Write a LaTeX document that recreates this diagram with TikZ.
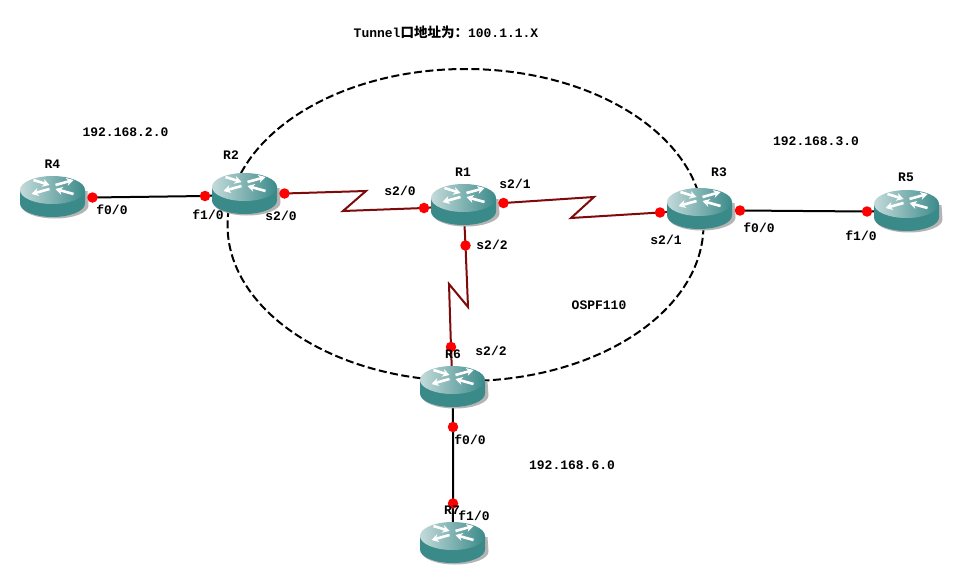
\documentclass[tikz,border=0pt]{standalone}
\usepackage{fontspec}
\setmainfont{Liberation Mono}
\newfontfamily\cjk{Noto Sans CJK SC}
\usetikzlibrary{shapes.geometric,arrows.meta,backgrounds}
\definecolor{rtrbody}{HTML}{3B8A8A}
\definecolor{rtrtop}{HTML}{478F8F}
\definecolor{rtrlight}{HTML}{C4DADA}
\definecolor{rtrshade}{HTML}{B4B4B4}
\definecolor{serial}{HTML}{7E0A0A}
\tikzset{
  x=1pt,y=-1pt,
  rtrbox/.style={minimum width=65pt,minimum height=42pt,inner sep=0pt,outer sep=0pt},
  port/.style={circle,fill=red,minimum size=10.5pt,inner sep=0pt},
  tag/.style={font=\fontsize{13}{13}\selectfont\bfseries,inner sep=0pt},
  ethlink/.style={black,line width=2pt},
  seriallink/.style={serial,line width=2pt},
  tunnelring/.style={ellipse,draw=black,line width=2pt,dash pattern=on 8pt off 3.5pt,
    minimum width=476pt,minimum height=312pt,inner sep=0pt},
  rtrarrow/.style={white,line width=2.6pt,-{Stealth[length=7pt,width=8pt]}}
}
% Router icon: name, centre x, top y of the casing
\newcommand{\router}[3]{%
  \begin{scope}[shift={(#2,#3)}]
    \fill[rtrshade] (-31,15) -- (-31,29.5) arc[start angle=180,end angle=0,x radius=33.5,y radius=13] -- (35,15) -- cycle;
    \fill[rtrbody] (-32.5,14) -- (-32.5,27.5) arc[start angle=180,end angle=0,x radius=32.5,y radius=13.5] -- (32.5,14) -- cycle;
    \shade[left color=rtrlight,middle color=rtrtop,right color=rtrbody] (0,14) ellipse[x radius=32.5,y radius=14];
    \draw[rtrarrow] (-19,4) -- (-3,9);
    \draw[rtrarrow] (3,9) -- (21,4);
    \draw[rtrarrow] (-3,13) -- (-21,18);
    \draw[rtrarrow] (21,18) -- (3,13);
  \end{scope}
  \node[rtrbox] (#1) at (#2,#3+21) {};
}
\begin{document}
\begin{tikzpicture}
\useasboundingbox (0,0) rectangle (960,586);

\router{R4}{52.5}{176}
\router{R2}{244.5}{173}
\router{R1}{463.5}{184}
\router{R3}{699.5}{188}
\router{R5}{906.5}{190}
\router{R6}{452.5}{366}
\router{R7}{452.5}{522}

% Interface points
\node[port] (p4f) at (92.5,197.5) {};
\node[port] (p2f) at (205,196) {};
\node[port] (p2s) at (284.5,193.5) {};
\node[port] (p1w) at (424,208) {};
\node[port] (p1e) at (503.5,203) {};
\node[port] (p3w) at (660,212.5) {};
\node[port] (p3f) at (740,210.5) {};
\node[port] (p5f) at (867,211.5) {};
\node[port] (p1s) at (465.5,245.5) {};
\node[port] (p6n) at (451,347) {};
\node[port] (p6s) at (453,427) {};
\node[port] (p7n) at (453,503.5) {};

% Bends of the serial lines
\coordinate (a1) at (366,191);
\coordinate (a2) at (343,211);
\coordinate (b1) at (594,197);
\coordinate (b2) at (571,218);
\coordinate (c1) at (468,307);
\coordinate (c2) at (449,284);

\begin{scope}[on background layer]
  \fill[white] (0,0) rectangle (960,586);
  \node[tunnelring] (ring) at (465.5,225) {};
  \draw[ethlink] (R4.center) -- (p4f.center) -- (p2f.center) -- (R2.center);
  \draw[ethlink] (R3.center) -- (p3f.center) -- (p5f.center) -- (R5.center);
  \draw[ethlink] (R6.center) -- (p6s.center) -- (p7n.center) -- (R7.center);
  \draw[seriallink] (R2.center) -- (p2s.center) -- (a1) -- (a2) -- (p1w.center) -- (R1.center);
  \draw[seriallink] (R1.center) -- (p1e.center) -- (b1) -- (b2) -- (p3w.center) -- (R3.center);
  \draw[seriallink] (R1.center) -- (p1s.center) -- (c1) -- (c2) -- (p6n.center) -- (R6.center);
\end{scope}

% Router names
\node[tag] (n4) at (52.5,164) {R4};
\node[tag] (n2) at (231,155) {R2};
\node[tag] (n1) at (463,172) {R1};
\node[tag] (n3) at (719,172) {R3};
\node[tag] (n5) at (906,177) {R5};
\node[tag] (n6) at (453,354) {R6};
\node[tag] (n7) at (452,510) {R7};

% Interface names
\node[tag] (t1) at (112,210) {f0/0};
\node[tag] (t2) at (208,215) {f1/0};
\node[tag] (t3) at (281,216) {s2/0};
\node[tag] (t4) at (400,191) {s2/0};
\node[tag] (t5) at (515,184) {s2/1};
\node[tag] (t6) at (492,245) {s2/2};
\node[tag] (t7) at (491,351) {s2/2};
\node[tag] (t8) at (666,240) {s2/1};
\node[tag] (t9) at (759,228) {f0/0};
\node[tag] (t10) at (861,236) {f1/0};
\node[tag] (t11) at (470,440) {f0/0};
\node[tag] (t12) at (474,516) {f1/0};

% Networks
\node[tag] (l1) at (446,32) {Tunnel{\cjk\fontsize{13.5}{13.5}\selectfont 口地址为：}100.1.1.X};
\node[tag] (l2) at (125.5,132) {192.168.2.0};
\node[tag] (l3) at (816,141) {192.168.3.0};
\node[tag] (l4) at (572,465) {192.168.6.0};
\node[tag] (l5) at (599,305) {OSPF110};
\end{tikzpicture}
\end{document}
